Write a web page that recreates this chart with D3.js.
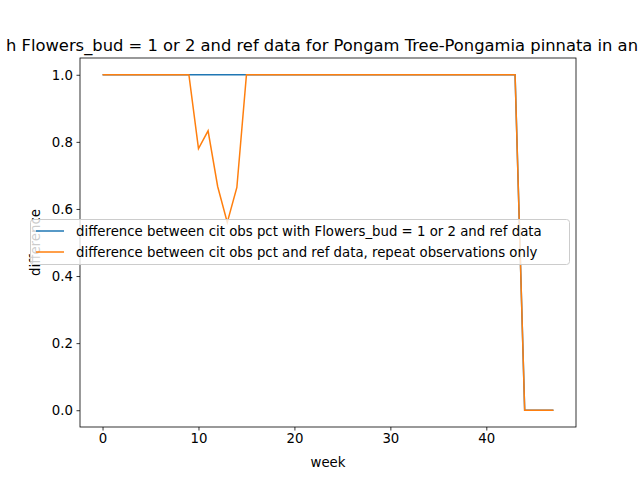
<!DOCTYPE html>
<html><head><meta charset="utf-8">
<script src="https://cdn.jsdelivr.net/npm/d3@7"></script>
<style>body{margin:0;background:#fff}text{font-family:"DejaVu Sans",sans-serif}</style>
</head><body><svg id="c" width="640" height="480"></svg>
<script>
const weeks = d3.range(0, 48);
const blueVals = weeks.map(w => w <= 43 ? 1 : 0);
const orangeVals = [1,1,1,1,1,1,1,1,1,1,0.78,0.833,0.667,0.56,0.664,1,
  1,1,1,1,1,1,1,1,1,1,1,1,1,1,1,1,1,1,1,1,1,1,1,1,1,1,1,1,0,0,0,0];
const xTicks = [0,10,20,30,40];
const yTicks = [0,0.2,0.4,0.6,0.8,1.0];
const seriesNames = ["difference between cit obs pct with Flowers_bud = 1 or 2 and ref data",
  "difference between cit obs pct and ref data, repeat observations only"];
const colors = ["#1f77b4","#ff7f0e"];
const titleText = "h Flowers_bud = 1 or 2 and ref data for Pongam Tree-Pongamia pinnata in an";

const svg = d3.select("#c");
const L=80,R=576,T=58,B=427;
const x = d3.scaleLinear().domain([-2.35,49.35]).range([L,R]);
const y = d3.scaleLinear().domain([-0.05,1.05]).range([B,T]);

const line = d3.line().x((d,i)=>x(weeks[i])).y(d=>y(d));
[blueVals, orangeVals].forEach((s,i)=>{
  svg.append("path").attr("d",line(s)).attr("fill","none").attr("stroke",colors[i]).attr("stroke-width",1.5);
});

svg.append("rect").attr("x",L).attr("y",T).attr("width",R-L).attr("height",B-T)
  .attr("fill","none").attr("stroke","#000").attr("stroke-width",0.8);

const xa = svg.append("g").attr("transform",`translate(0,${B})`)
  .call(d3.axisBottom(x).tickValues(xTicks).tickSize(3.5).tickPadding(3.5));
const ya = svg.append("g").attr("transform",`translate(${L},0)`)
  .call(d3.axisLeft(y).tickValues(yTicks).tickFormat(d3.format(".1f")).tickSize(3.5).tickPadding(3.5));
[xa,ya].forEach(a=>{a.select(".domain").remove();
  a.selectAll("text").attr("font-size",13.3).attr("fill","#000").style("font-family","DejaVu Sans");
  a.selectAll("line").attr("stroke","#000").attr("stroke-width",0.8);});

svg.append("text").attr("x",(L+R)/2).attr("y",467).attr("text-anchor","middle").attr("font-size",13.3).text("week");
svg.append("text").attr("transform",`translate(40,${(T+B)/2}) rotate(-90)`).attr("text-anchor","middle").attr("font-size",13.3).text("difference");
svg.append("text").attr("x",322).attr("y",51).attr("text-anchor","middle").attr("font-size",16)
  .attr("textLength",632).attr("lengthAdjust","spacingAndGlyphs").text(titleText);

const lg = svg.append("g");
lg.append("rect").attr("x",30.5).attr("y",219.5).attr("width",539).attr("height",45).attr("rx",3)
  .attr("fill","#fff").attr("fill-opacity",0.8).attr("stroke","#ccc");
seriesNames.forEach((n,i)=>{
  const yy = 231 + i*21;
  lg.append("line").attr("x1",36).attr("x2",64).attr("y1",yy).attr("y2",yy).attr("stroke",colors[i]).attr("stroke-width",1.5);
  lg.append("text").attr("x",76).attr("y",yy+5).attr("font-size",13.3).text(n);
});
</script></body></html>
